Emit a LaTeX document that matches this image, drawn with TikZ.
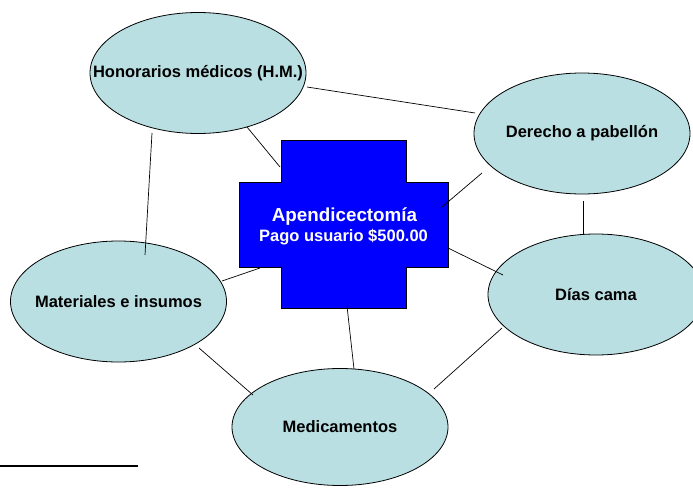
\documentclass[tikz,border=0pt]{standalone}
\usepackage{fontspec}
\setmainfont{Liberation Sans}
\usetikzlibrary{shapes.geometric}
\definecolor{bubble}{RGB}{185,223,226}
\definecolor{crossblue}{RGB}{0,0,255}
\begin{document}
\begin{tikzpicture}[x=1pt,y=-1pt,
  bubble/.style={ellipse,draw=black,line width=0.8pt,fill=bubble,
    minimum width=216pt,minimum height=121pt,inner sep=0pt,
    font=\fontsize{16.5}{19}\selectfont\bfseries,
    % zero-width label box so the ellipse keeps its fixed size
    execute at begin node={\hbox to 0pt\bgroup\hss},
    execute at end node={\hss\egroup}},
  link/.style={draw=black,line width=0.7pt},
  crosstext/.style={anchor=base,text=white,inner sep=0pt}]
\useasboundingbox (0,0) rectangle (693,487);
\clip (0,0) rectangle (693,487);

% category bubbles
\node[bubble] (hm)  at (198,73)    {Honorarios médicos (H.M.)};
\node[bubble] (der) at (582,133.5) {Derecho a pabellón};
\node[bubble] (dias) at (596,294.5) {Días cama};
\node[bubble] (mat) at (118.5,301.5) {Materiales e insumos};
\node[bubble, minimum height=117pt] (med) at (340,427) {Medicamentos};

% central cross
\draw[fill=crossblue,draw=black,line width=0.7pt]
  (281,140) -- (406,140) -- (406,182) -- (448,182) -- (448,267)
  -- (406,267) -- (406,308) -- (281,308) -- (281,267) -- (239,267)
  -- (239,182) -- (281,182) -- cycle;
\node[crosstext,font=\fontsize{18.8}{20}\selectfont\bfseries] (title) at (344.5,221.7) {Apendicectomía};
\node[crosstext,font=\fontsize{16.5}{20}\selectfont\bfseries] (fee) at (343.5,241.7) {Pago usuario \$500.00};

% connector end points
\coordinate (hmA)  at (307,87);    \coordinate (derA)  at (475,113);
\coordinate (hmB)  at (247,127);   \coordinate (crA)   at (280,167);
\coordinate (hmC)  at (152,133);   \coordinate (matA)  at (145,255);
\coordinate (derB) at (482,173);   \coordinate (crB)   at (442,207);
\coordinate (derC) at (583,201);   \coordinate (diasA) at (583,234);
\coordinate (crC)  at (448,248);   \coordinate (diasB) at (503,275);
\coordinate (crD)  at (260,268);   \coordinate (matB)  at (222,281);
\coordinate (crE)  at (347,306);   \coordinate (medA)  at (354,369);
\coordinate (matC) at (199,348);   \coordinate (medB)  at (253,395);
\coordinate (diasC) at (502,328);  \coordinate (medC)  at (434,389);

% connectors
\draw[link] (hmA) -- (derA);
\draw[link] (hmB) -- (crA);
\draw[link] (hmC) -- (matA);
\draw[link] (derB) -- (crB);
\draw[link] (derC) -- (diasA);
\draw[link] (crC) -- (diasB);
\draw[link] (crD) -- (matB);
\draw[link] (crE) -- (medA);
\draw[link] (matC) -- (medB);
\draw[link] (diasC) -- (medC);

% footnote rule
\coordinate (ruleL) at (0,466);
\coordinate (ruleR) at (138,466);
\draw[line width=2pt] (ruleL) -- (ruleR);
\end{tikzpicture}
\end{document}
